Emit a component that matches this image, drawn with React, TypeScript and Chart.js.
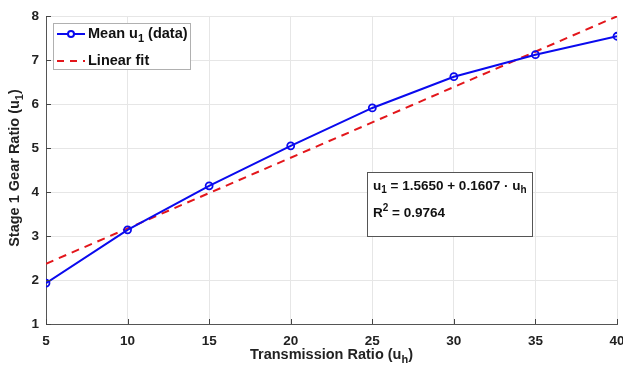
import React, { useEffect, useRef } from "react";
import { Chart, registerables } from "chart.js";

Chart.register(...registerables);

const xValues = [5, 10, 15, 20, 25, 30, 35, 40];
const meanU1 = [1.93, 3.14, 4.14, 5.05, 5.91, 6.62, 7.12, 7.54];
const fitX = [5, 40];
const fitY = [2.369, 7.993];
const xTickValues = [5, 10, 15, 20, 25, 30, 35, 40];
const yTickValues = [1, 2, 3, 4, 5, 6, 7, 8];

const FONT = "'Liberation Sans', Arial, sans-serif";
const BLUE = "#0a0aee";
const RED = "#e3161b";

type Part = { t: string; sub?: boolean; sup?: boolean };

function drawRich(ctx: CanvasRenderingContext2D, parts: Part[], x: number, y: number, size: number, align: "left" | "center" = "left") {
  const small = Math.round(size * 0.75);
  const widths = parts.map((p) => {
    ctx.font = `bold ${p.sub || p.sup ? small : size}px ${FONT}`;
    return ctx.measureText(p.t).width;
  });
  const total = widths.reduce((a, b) => a + b, 0);
  let cx = align === "center" ? x - total / 2 : x;
  ctx.textBaseline = "middle";
  ctx.textAlign = "left";
  parts.forEach((p, i) => {
    ctx.font = `bold ${p.sub || p.sup ? small : size}px ${FONT}`;
    const dy = p.sub ? size * 0.35 : p.sup ? -size * 0.35 : 0;
    ctx.fillText(p.t, cx, y + dy);
    cx += widths[i];
  });
}

const overlayPlugin = {
  id: "overlay",
  afterDraw(chart: any) {
    const ctx: CanvasRenderingContext2D = chart.ctx;
    const { left, right, top, bottom } = chart.chartArea;
    const xs = chart.scales.x;
    const ys = chart.scales.y;
    ctx.save();
    // inward tick marks
    ctx.strokeStyle = "#444";
    ctx.lineWidth = 1;
    xTickValues.forEach((v) => {
      const px = Math.round(xs.getPixelForValue(v)) + 0.5;
      ctx.beginPath();
      ctx.moveTo(px, bottom);
      ctx.lineTo(px, bottom - 5);
      ctx.stroke();
    });
    yTickValues.forEach((v) => {
      const py = Math.round(ys.getPixelForValue(v)) + 0.5;
      ctx.beginPath();
      ctx.moveTo(left, py);
      ctx.lineTo(left + 5, py);
      ctx.stroke();
    });

    ctx.fillStyle = "#222";
    // x axis title
    drawRich(ctx, [{ t: "Transmission Ratio (u" }, { t: "h", sub: true }, { t: ")" }], (left + right) / 2, 355, 14.5, "center");
    // y axis title
    ctx.save();
    ctx.translate(15, 168);
    ctx.rotate(-Math.PI / 2);
    drawRich(ctx, [{ t: "Stage 1 Gear Ratio (u" }, { t: "1", sub: true }, { t: ")" }], 0, 0, 14.5, "center");
    ctx.restore();

    // legend
    const lx = left + 7, ly = top + 7, lw = 137, lh = 46;
    ctx.fillStyle = "#fff";
    ctx.fillRect(lx, ly, lw, lh);
    ctx.strokeStyle = "#b0b0b0";
    ctx.lineWidth = 1;
    ctx.strokeRect(lx + 0.5, ly + 0.5, lw, lh);
    const r1 = ly + 11, r2 = ly + 38;
    ctx.strokeStyle = BLUE;
    ctx.lineWidth = 2;
    ctx.beginPath();
    ctx.moveTo(lx + 4, r1);
    ctx.lineTo(lx + 32, r1);
    ctx.stroke();
    ctx.beginPath();
    ctx.arc(lx + 18, r1, 3, 0, Math.PI * 2);
    ctx.fillStyle = "#fff";
    ctx.fill();
    ctx.stroke();
    ctx.strokeStyle = RED;
    ctx.setLineDash([7, 6]);
    ctx.beginPath();
    ctx.moveTo(lx + 4, r2);
    ctx.lineTo(lx + 32, r2);
    ctx.stroke();
    ctx.setLineDash([]);
    ctx.fillStyle = "#111";
    drawRich(ctx, [{ t: "Mean u" }, { t: "1", sub: true }, { t: " (data)" }], lx + 35, r1, 14.5);
    drawRich(ctx, [{ t: "Linear fit" }], lx + 35, r2, 14.5);

    // annotation box
    const ax = 367, ay = 172, aw = 165, ah = 64;
    ctx.fillStyle = "#fff";
    ctx.fillRect(ax, ay, aw, ah);
    ctx.strokeStyle = "#555";
    ctx.lineWidth = 1;
    ctx.strokeRect(ax + 0.5, ay + 0.5, aw, ah);
    ctx.fillStyle = "#111";
    drawRich(ctx, [{ t: "u" }, { t: "1", sub: true }, { t: " = 1.5650 + 0.1607 \u00b7 u" }, { t: "h", sub: true }], ax + 6, ay + 14, 13.5);
    drawRich(ctx, [{ t: "R" }, { t: "2", sup: true }, { t: " = 0.9764" }], ax + 6, ay + 41, 13.5);
    ctx.restore();
  },
};

export default function App() {
  const ref = useRef<HTMLCanvasElement>(null);
  useEffect(() => {
    document.body.style.margin = "0";
    const chart = new Chart(ref.current!, {
      type: "line",
      data: {
        datasets: [
          {
            label: "Mean u1 (data)",
            data: xValues.map((x, i) => ({ x, y: meanU1[i] })),
            borderColor: BLUE,
            backgroundColor: "#fff",
            borderWidth: 2,
            pointRadius: 3.5,
            pointBorderWidth: 1.8,
            pointBorderColor: BLUE,
            pointBackgroundColor: "rgba(255,255,255,0)",
            tension: 0,
          },
          {
            label: "Linear fit",
            data: fitX.map((x, i) => ({ x, y: fitY[i] })),
            borderColor: RED,
            borderWidth: 2,
            borderDash: [8, 6],
            pointRadius: 0,
            tension: 0,
          },
        ],
      },
      options: {
        responsive: false,
        animation: false,
        layout: { padding: { top: 16, right: 6, left: 0, bottom: 0 } },
        plugins: { legend: { display: false }, tooltip: { enabled: false } },
        scales: {
          x: {
            type: "linear",
            min: 5,
            max: 40,
            afterFit: (s: any) => { s.height = 46; s.paddingRight = 0; s.paddingLeft = 0; },
            afterBuildTicks: (s: any) => { s.ticks = xTickValues.map((v) => ({ value: v })); },
            ticks: { color: "#222", padding: 9, font: { family: FONT, size: 13.5, weight: "bold" } },
            grid: { color: "#e6e6e6", drawTicks: false },
            border: { color: "#555", width: 1 },
          },
          y: {
            type: "linear",
            min: 1,
            max: 8,
            afterFit: (s: any) => { s.width = 46; s.paddingTop = 0; s.paddingBottom = 0; },
            afterBuildTicks: (s: any) => { s.ticks = yTickValues.map((v) => ({ value: v })); },
            ticks: { color: "#222", padding: 7, font: { family: FONT, size: 13.5, weight: "bold" } },
            grid: { color: "#e6e6e6", drawTicks: false },
            border: { color: "#555", width: 1 },
          },
        },
      },
      plugins: [overlayPlugin],
    } as any);
    return () => chart.destroy();
  }, []);
  return (
    <div style={{ width: 623, height: 370 }}>
      <canvas ref={ref} width={623} height={370} />
    </div>
  );
}
